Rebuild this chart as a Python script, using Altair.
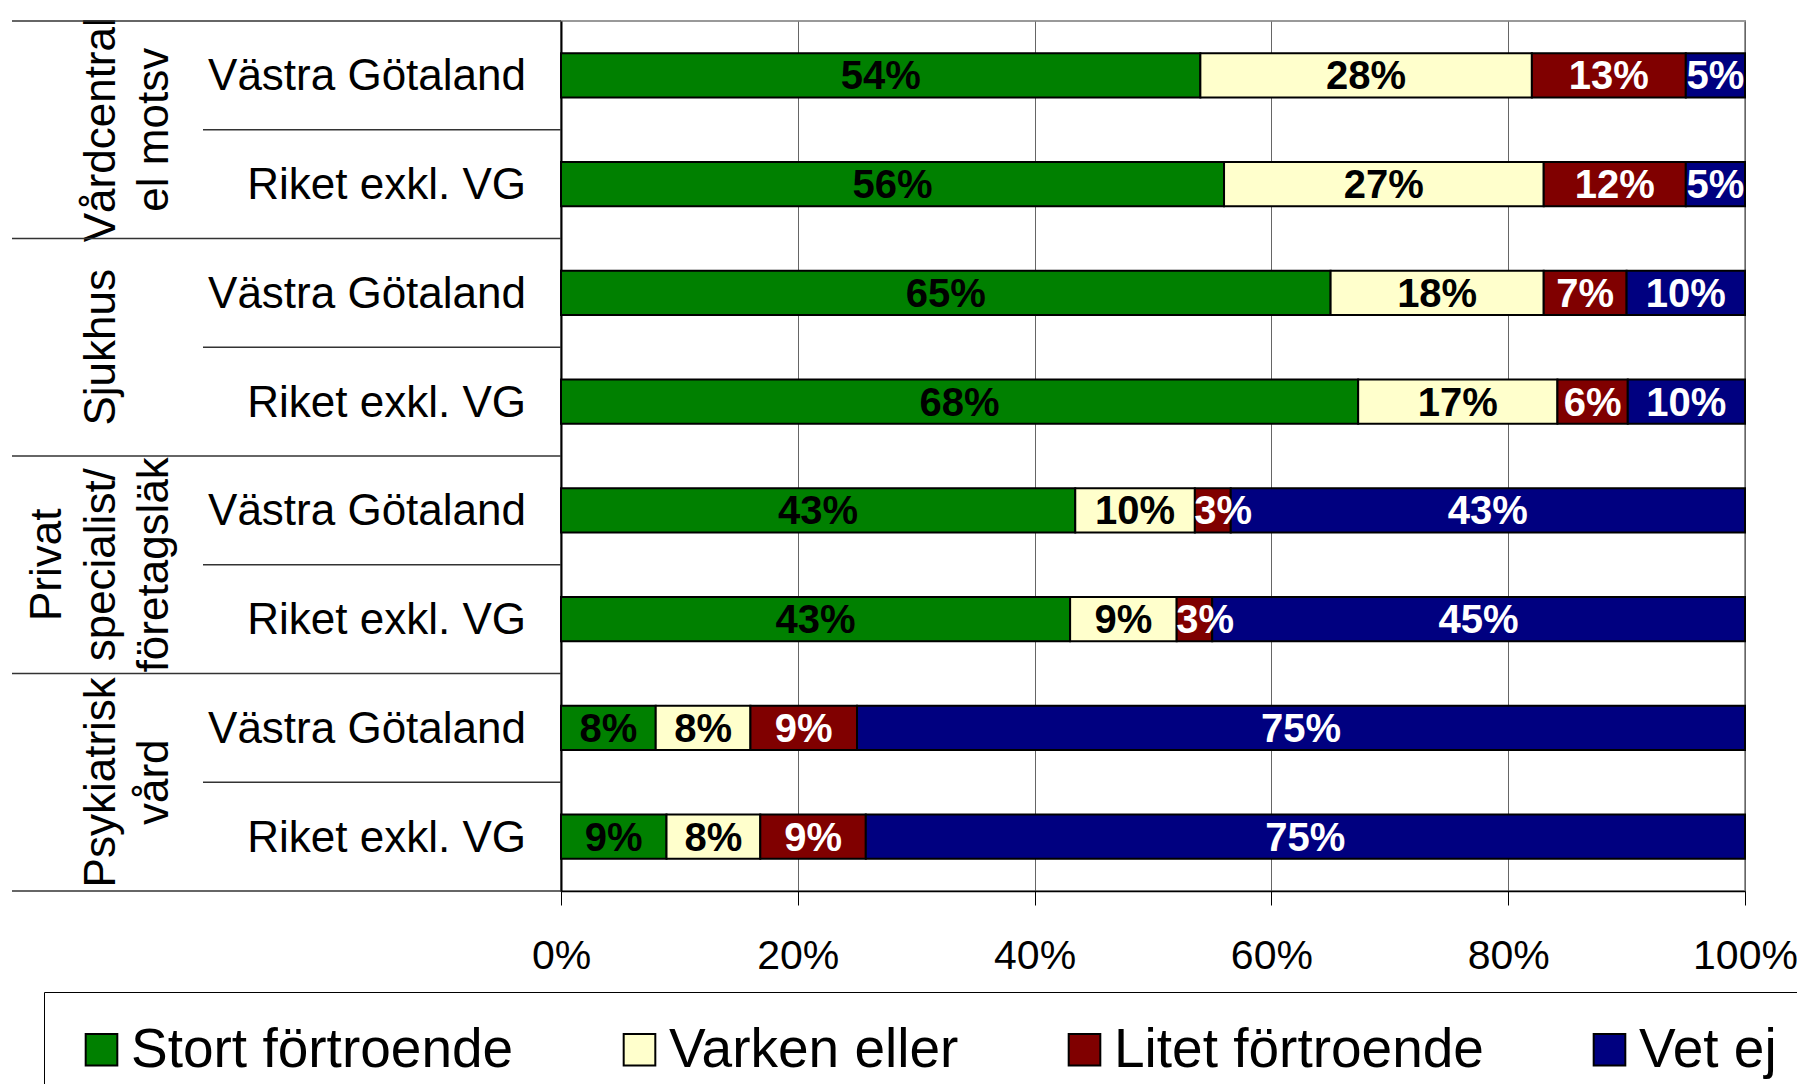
import altair as alt
import pandas as pd

# ---- data ----
groups = ["Vårdcentral\nel motsv", "Sjukhus", "Privat\nspecialist/\nföretagsläk", "Psykiatrisk\nvård"]
regions = ["Västra Götaland", "Riket exkl. VG"]
series = ["Stort förtroende", "Varken eller", "Litet förtroende", "Vet ej"]
colors = ["#008000", "#FFFFCC", "#800000", "#000080"]
stort = [54, 56, 65, 68, 43, 43, 8, 9]
varken = [28, 27, 18, 17, 10, 9, 8, 8]
litet = [13, 12, 7, 6, 3, 3, 9, 9]
vetej = [5, 5, 10, 10, 43, 45, 75, 75]
x_ticks = [0, 0.2, 0.4, 0.6, 0.8, 1.0]

values = [stort, varken, litet, vetej]
row_ids = [f"r{i}" for i in range(8)]

bars = pd.DataFrame([
    {"row": row_ids[i], "series": s, "order": si, "value": values[si][i]}
    for i in range(8) for si, s in enumerate(series)
])
row_labels = pd.DataFrame({"row": row_ids, "label": [regions[i % 2] for i in range(8)]})
max_lines = max(g.count("\n") + 1 for g in groups)
# pad with empty leading lines so every group label ends on the same (rightmost) line
padded = ["\n" * (max_lines - (g.count("\n") + 1)) + g for g in groups]
group_labels = pd.DataFrame({"row": [row_ids[2 * g + 1] for g in range(4)], "label": padded})
group_lines = pd.DataFrame({"row": [row_ids[2 * g] for g in range(4)]})
sub_lines = pd.DataFrame({"row": [row_ids[2 * g + 1] for g in range(4)]})
end_line = pd.DataFrame({"row": [row_ids[-1]]})

FONT = "Liberation Sans"

yscale = alt.Scale(domain=row_ids, paddingInner=0, paddingOuter=0)
yaxis = alt.Axis(labels=False, ticks=False, title=None, domainColor="black", domainWidth=2, grid=False)
xscale = alt.Scale(domain=[0, 1], nice=False, zero=True)
xaxis = alt.Axis(values=x_ticks, format=".0%", labelFontSize=41, labelFont=FONT, labelColor="black",
                 tickSize=14, tickColor="black", labelPadding=31, domainColor="black", domainWidth=1.5,
                 grid=True, gridColor="#666", gridWidth=1, title=None, labelFlush=False)

stacked = alt.Chart(bars).transform_stack(
    as_=["v0", "v1"], stack="value", groupby=["row"], offset="normalize",
    sort=[alt.SortField("order", order="ascending")]
)

bar = stacked.mark_bar(height={"band": 0.405}, stroke="black", strokeWidth=2).encode(
    x=alt.X("v0:Q", scale=xscale, axis=xaxis),
    x2="v1:Q",
    y=alt.Y("row:N", scale=yscale, axis=yaxis),
    color=alt.Color("series:N", scale=alt.Scale(domain=series, range=colors),
                    legend=alt.Legend(orient="none", legendX=-517, legendY=971, direction="horizontal",
                                      columns=4, title=None, symbolType="square", symbolSize=1000,
                                      symbolStrokeColor="black", symbolStrokeWidth=2,
                                      labelFontSize=55, labelFont=FONT, labelColor="black", labelLimit=0,
                                      labelOffset=2, columnPadding=98, padding=30,
                                      strokeColor="black", fillColor="white")),
    order=alt.Order("order:Q"),
)

text = stacked.transform_calculate(
    mid="max((datum.v0 + datum.v1) / 2, datum.v0 + 0.024)", label="datum.value + '%'"
).mark_text(font=FONT, fontSize=40, fontWeight="bold", baseline="middle", align="center", dy=2).encode(
    x=alt.X("mid:Q", scale=xscale, axis=xaxis),
    y=alt.Y("row:N", scale=yscale, axis=yaxis),
    text="label:N",
    color=alt.when("datum.order < 2").then(alt.value("black")).otherwise(alt.value("white")),
)

rowlab = alt.Chart(row_labels).mark_text(font=FONT, fontSize=44, align="right", baseline="middle",
                                         color="black", dy=2).encode(
    y=alt.Y("row:N", scale=yscale, axis=yaxis),
    x=alt.value(-35),
    text="label:N",
)

grouplab = alt.Chart(group_labels).mark_text(font=FONT, fontSize=44, angle=270, align="center",
                                             baseline="alphabetic", lineBreak="\n", lineHeight=53.5,
                                             color="black").encode(
    y=alt.Y("row:N", scale=yscale, axis=yaxis, bandPosition=0),
    x=alt.value(-500),
    text="label:N",
)

rule_group = alt.Chart(group_lines).mark_rule(color="#333", strokeWidth=1.5).encode(
    y=alt.Y("row:N", scale=yscale, axis=yaxis, bandPosition=0),
    x=alt.value(-549), x2=alt.value(0),
)
rule_sub = alt.Chart(sub_lines).mark_rule(color="#333", strokeWidth=1.5).encode(
    y=alt.Y("row:N", scale=yscale, axis=yaxis, bandPosition=0),
    x=alt.value(-358), x2=alt.value(0),
)
rule_end = alt.Chart(end_line).mark_rule(color="#333", strokeWidth=1.5).encode(
    y=alt.Y("row:N", scale=yscale, axis=yaxis, bandPosition=1),
    x=alt.value(-549), x2=alt.value(0),
)

chart = alt.layer(bar, text, rowlab, grouplab, rule_group, rule_sub, rule_end).properties(
    width=1184, height=870,
    autosize=alt.AutoSizeParams(type="none"),
    padding={"left": 553, "top": 13, "right": 52, "bottom": 193},
).configure_view(stroke="#999", strokeWidth=2)

chart.save("out.html", embed_options={"renderer": "svg", "actions": False})
